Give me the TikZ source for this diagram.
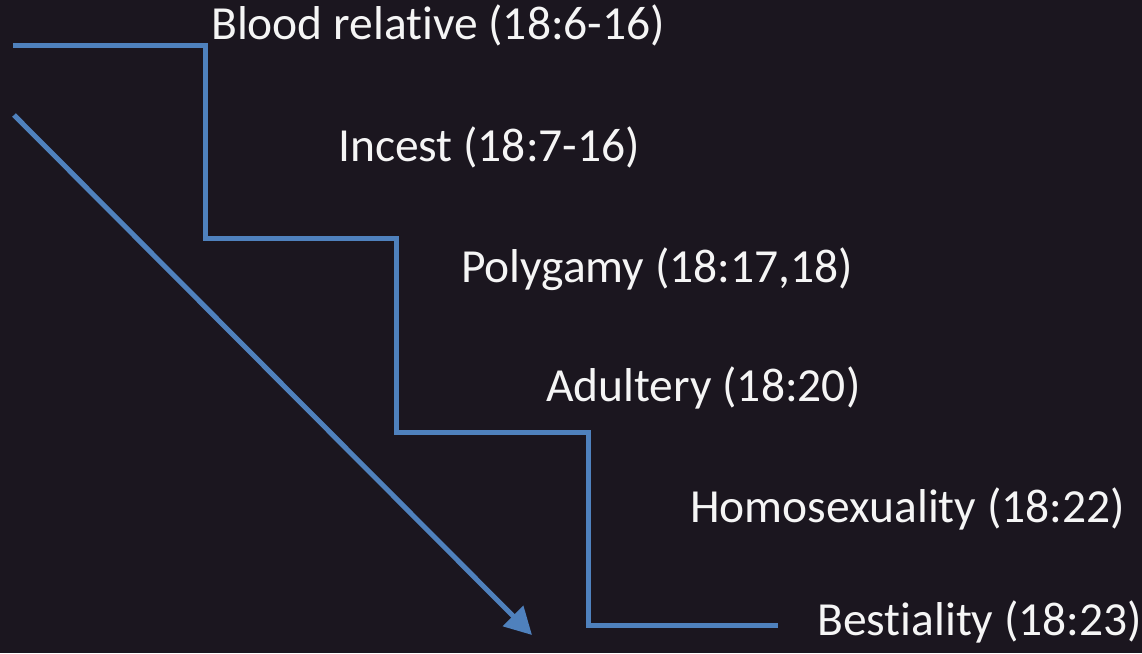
\documentclass[tikz,border=0pt]{standalone}
\usepackage{fontspec}
\setmainfont{Carlito}[Ligatures={NoCommon}]
\usetikzlibrary{arrows.meta}
\definecolor{bgc}{RGB}{27,22,31}
\definecolor{linec}{RGB}{79,129,189}
\definecolor{txtc}{RGB}{245,245,245}
\begin{document}
\begin{tikzpicture}[x=1pt,y=-1pt,
  lbl/.style={anchor=base west,inner sep=0pt,text=txtc,font=\fontsize{47.5}{55}\selectfont},
  stair/.style={draw=linec,line width=5pt,line join=miter},
  fall/.style={draw=linec,line width=5pt,-{Triangle[length=27pt,width=28pt]}}]
\fill[bgc] (0,0) rectangle (1142,653);
\useasboundingbox (0,0) rectangle (1142,653);
\coordinate (s0) at (13,45);
\coordinate (s1) at (205,45);
\coordinate (s2) at (205,238);
\coordinate (s3) at (396,238);
\coordinate (s4) at (396,432);
\coordinate (s5) at (588,432);
\coordinate (s6) at (588,625);
\coordinate (s7) at (778,625);
\draw[stair] (s0) -- (s1) -- (s2) -- (s3) -- (s4) -- (s5) -- (s6) -- (s7);
\coordinate (a0) at (14,115);
\coordinate (a1) at (532,635);
\draw[fall] (a0) -- (a1);
\node[lbl] (t1) at (211,39) {Blood relative (18:6-16)};
\node[lbl] (t2) at (338,161) {Incest (18:7-16)};
\node[lbl] (t3) at (461,282) {Polygamy (18:17,18)};
\node[lbl] (t4) at (546,401) {Adultery (18:20)};
\node[lbl] (t5) at (690,522) {Homosexuality (18:22)};
\node[lbl] (t6) at (817,635) {Bestiality (18:23)};
\end{tikzpicture}
\end{document}
